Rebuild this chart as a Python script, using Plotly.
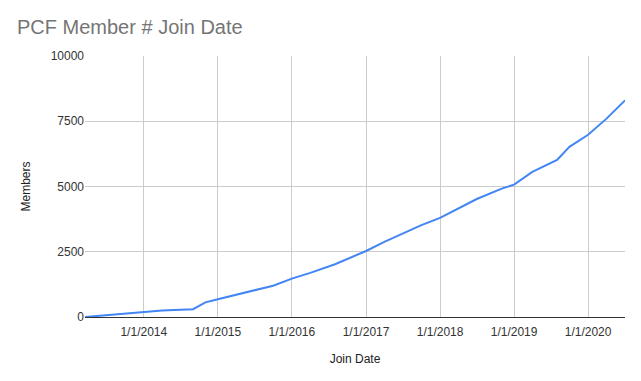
import plotly.graph_objects as go

dates = ["2013-03-17", "2014-01-01", "2014-04-01", "2014-09-01", "2014-11-01",
         "2015-01-01", "2015-04-01", "2015-07-01", "2015-10-01", "2016-01-01",
         "2016-04-01", "2016-08-01", "2017-01-01", "2017-04-01", "2017-07-01",
         "2017-10-01", "2018-01-01", "2018-07-01", "2018-11-01", "2019-01-01",
         "2019-04-01", "2019-08-01", "2019-10-01", "2020-01-01", "2020-04-01",
         "2020-07-01"]
members = [0, 190, 250, 300, 560,
           680, 850, 1020, 1200, 1470,
           1690, 2020, 2530, 2880, 3200,
           3520, 3800, 4520, 4920, 5070,
           5560, 6020, 6520, 6980, 7600,
           8300]
y_ticks = [0, 2500, 5000, 7500, 10000]
y_labels = ["0", "2500", "5000", "7500", "10000"]
x_ticks = ["2014-01-01", "2015-01-01", "2016-01-01", "2017-01-01",
           "2018-01-01", "2019-01-01", "2020-01-01"]

FONT = "Arial, Liberation Sans, sans-serif"
fig = go.Figure(go.Scatter(x=dates, y=members, mode="lines",
                           line=dict(color="#4285F4", width=2)))
fig.update_layout(
    width=641, height=381,
    margin=dict(l=85, r=16, t=56, b=64),
    paper_bgcolor="white", plot_bgcolor="white",
    font=dict(family=FONT, size=12, color="#222222"),
    title=dict(text="PCF Member # Join Date", x=17/641, xanchor="left",
               y=1-27/381, yanchor="middle",
               font=dict(family=FONT, size=20, color="#757575")),
    showlegend=False,
    xaxis=dict(range=[dates[0], dates[-1]], tickvals=x_ticks,
               tickformat="%-m/%-d/%Y", showgrid=True, gridcolor="#cccccc",
               gridwidth=1, zeroline=False, showline=False, ticks="",
               ticklabelstandoff=6,
               title=dict(text="Join Date", font=dict(size=12, color="#222222"), standoff=16),
               tickfont=dict(size=12, color="#333333")),
    yaxis=dict(range=[0, 10000], tickvals=y_ticks, ticktext=y_labels, showgrid=True,
               gridcolor="#cccccc", gridwidth=1, zeroline=True,
               zerolinecolor="#333333", zerolinewidth=1, ticks="",
               title=dict(text="Members", font=dict(size=12, color="#222222"), standoff=17),
               tickfont=dict(size=12, color="#333333")),
)
fig.write_html("out.html")
